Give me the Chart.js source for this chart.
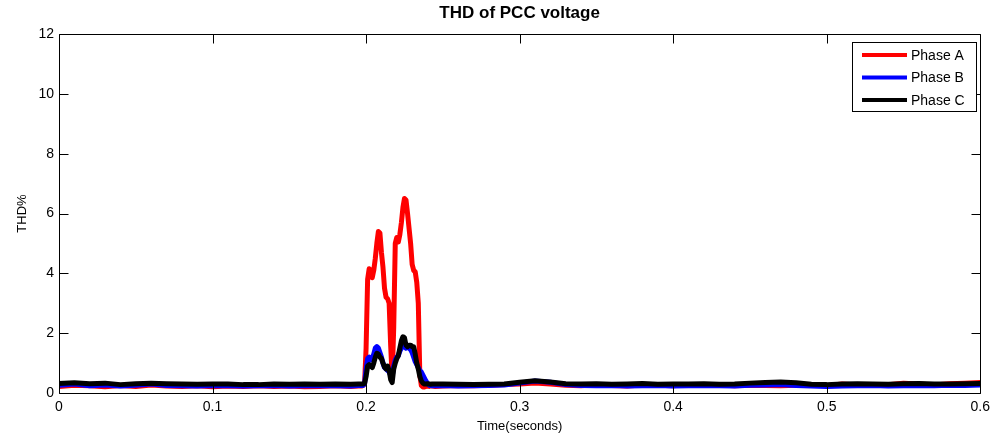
<!DOCTYPE html>
<html><head><meta charset="utf-8">
<script src="https://cdn.jsdelivr.net/npm/chart.js@4"></script>
<style>html,body{margin:0;padding:0;background:#fff}canvas{display:block}</style>
</head><body>
<canvas id="c" width="996" height="437"></canvas>
<script>
const times = [0,0.01,0.02,0.03,0.04,0.05,0.06,0.07,0.08,0.09,0.1,0.11,0.12,0.13,0.14,0.15,0.16,0.17,0.18,0.19,0.195,
0.197,0.198,0.199,0.200,0.201,0.202,0.203,0.204,0.205,0.206,0.207,0.208,0.209,0.210,0.211,0.212,0.213,0.214,0.215,0.216,0.217,0.218,0.219,0.220,0.221,0.222,0.223,0.224,0.225,0.226,0.227,0.228,0.229,0.230,0.231,0.232,0.233,0.234,0.235,0.236,0.237,0.238,0.239,0.240,0.241,0.242,0.243,
0.245,0.25,0.26,0.27,0.28,0.29,0.3,0.31,0.32,0.33,0.34,0.35,0.36,0.37,0.38,0.39,0.4,0.41,0.42,0.43,0.44,0.45,0.46,0.47,0.48,0.49,0.5,0.51,0.52,0.53,0.54,0.55,0.56,0.57,0.58,0.59,0.6];

const phaseA = [0.22,0.26,0.24,0.21,0.25,0.22,0.27,0.23,0.22,0.24,0.21,0.23,0.22,0.24,0.22,0.23,0.21,0.22,0.24,0.22,0.23,
0.23,0.25,0.30,1.50,3.80,4.15,4.10,3.85,4.10,4.50,5.00,5.40,5.35,4.70,4.20,3.50,3.20,3.15,3.00,1.60,0.50,2.20,5.00,5.20,5.05,5.30,5.70,6.20,6.50,6.45,6.00,5.50,5.00,4.30,4.10,4.05,3.70,3.00,0.60,0.25,0.20,0.20,0.22,0.23,0.22,0.24,0.23,
0.22,0.23,0.25,0.24,0.26,0.28,0.30,0.33,0.30,0.26,0.24,0.28,0.25,0.23,0.27,0.26,0.24,0.28,0.25,0.27,0.24,0.26,0.25,0.24,0.26,0.28,0.24,0.30,0.27,0.25,0.28,0.33,0.30,0.27,0.31,0.33,0.35];

const phaseB = [0.26,0.30,0.24,0.27,0.23,0.26,0.30,0.25,0.24,0.23,0.25,0.24,0.23,0.24,0.25,0.23,0.24,0.25,0.24,0.23,0.25,
0.25,0.25,0.30,0.80,1.15,1.20,1.10,1.15,1.30,1.50,1.55,1.50,1.35,1.20,1.00,0.85,0.80,0.75,0.70,0.60,0.55,0.90,1.10,1.20,1.25,1.40,1.50,1.60,1.55,1.50,1.60,1.50,1.45,1.35,1.20,1.05,0.95,0.85,0.75,0.70,0.60,0.50,0.40,0.32,0.26,0.25,0.24,
0.24,0.25,0.23,0.24,0.25,0.27,0.33,0.40,0.36,0.28,0.25,0.24,0.25,0.23,0.24,0.25,0.23,0.24,0.25,0.24,0.23,0.26,0.27,0.28,0.25,0.23,0.22,0.23,0.24,0.25,0.23,0.24,0.25,0.24,0.26,0.25,0.27];

const phaseC = [0.32,0.34,0.31,0.33,0.28,0.31,0.33,0.31,0.30,0.29,0.30,0.30,0.28,0.28,0.30,0.29,0.30,0.29,0.30,0.29,0.30,
0.30,0.30,0.32,0.55,0.90,0.95,0.90,0.85,1.00,1.20,1.33,1.30,1.20,1.15,1.00,0.87,0.80,0.90,0.75,0.45,0.35,0.80,1.00,1.15,1.25,1.50,1.75,1.88,1.85,1.60,1.55,1.60,1.60,1.55,1.55,1.30,1.00,0.80,0.55,0.40,0.33,0.30,0.30,0.31,0.30,0.29,0.30,
0.30,0.30,0.29,0.28,0.29,0.30,0.36,0.41,0.37,0.31,0.30,0.31,0.29,0.30,0.32,0.29,0.30,0.30,0.31,0.29,0.30,0.33,0.35,0.37,0.34,0.29,0.28,0.30,0.31,0.30,0.29,0.31,0.32,0.30,0.30,0.31,0.32];

const xTicks = [0,0.1,0.2,0.3,0.4,0.5,0.6];
const yTicks = [0,2,4,6,8,10,12];
const seriesNames = ['Phase A','Phase B','Phase C'];
const seriesColors = ['#ff0000','#0000ff','#000000'];
const chartTitle = 'THD of PCC voltage';
const xTitle = 'Time(seconds)';
const yTitle = 'THD%';

const FONT = '"Liberation Sans", Arial, sans-serif';
const seriesValues = [phaseA, phaseB, phaseC];

const datasets = seriesValues.map((vals, k) => ({
  label: seriesNames[k],
  data: times.map((t, i) => ({x: t, y: vals[i]})),
  borderColor: seriesColors[k],
  backgroundColor: seriesColors[k],
  borderWidth: 5,
  pointRadius: 0,
  tension: 0,
  borderJoinStyle: 'round',
  borderCapStyle: 'round',
  order: 3 - k
}));

const deco = {
  id: 'deco',
  afterDatasetsDraw(chart) {
    const {ctx, chartArea: a, scales: {x, y}} = chart;
    ctx.save();
    ctx.strokeStyle = '#000';
    ctx.lineWidth = 1;
    const L = Math.round(a.left) + 0.5, R = Math.round(a.right) + 0.5;
    const T = Math.round(a.top) + 0.5, B = Math.round(a.bottom) + 0.5;
    ctx.beginPath();
    ctx.rect(L, T, R - L, B - T);
    xTicks.forEach(v => {
      const p = Math.round(x.getPixelForValue(v)) + 0.5;
      ctx.moveTo(p, B); ctx.lineTo(p, B - 9);
      ctx.moveTo(p, T); ctx.lineTo(p, T + 9);
    });
    yTicks.forEach(v => {
      const p = Math.round(y.getPixelForValue(v)) + 0.5;
      ctx.moveTo(L, p); ctx.lineTo(L + 9, p);
      ctx.moveTo(R, p); ctx.lineTo(R - 9, p);
    });
    ctx.stroke();

    // legend box
    const lx = 852.5, ly = 42.5, lw = 124, lh = 69;
    ctx.fillStyle = '#fff';
    ctx.fillRect(lx, ly, lw, lh);
    ctx.strokeRect(lx, ly, lw, lh);
    ctx.font = '14px ' + FONT;
    ctx.textBaseline = 'middle';
    ctx.textAlign = 'left';
    seriesNames.forEach((n, k) => {
      const yy = 55 + k * 22.5;
      ctx.strokeStyle = seriesColors[k];
      ctx.lineWidth = 4;
      ctx.beginPath();
      ctx.moveTo(862, yy); ctx.lineTo(907, yy);
      ctx.stroke();
      ctx.fillStyle = '#000';
      ctx.fillText(n, 911, yy + 1);
    });

    // titles
    ctx.fillStyle = '#000';
    ctx.textAlign = 'center';
    ctx.font = 'bold 17px ' + FONT;
    ctx.fillText(chartTitle, (a.left + a.right) / 2, 13);
    ctx.font = '13px ' + FONT;
    ctx.fillText(xTitle, (a.left + a.right) / 2, 426);
    ctx.save();
    ctx.translate(22, (a.top + a.bottom) / 2);
    ctx.rotate(-Math.PI / 2);
    ctx.font = '13px ' + FONT;
    ctx.fillText(yTitle, 0, 0);
    ctx.restore();
    ctx.restore();
  }
};

new Chart(document.getElementById('c'), {
  type: 'line',
  data: {datasets},
  options: {
    responsive: false,
    animation: false,
    devicePixelRatio: 1,
    layout: {padding: {left: 0, right: 15, top: 34, bottom: 0}},
    plugins: {legend: {display: false}, tooltip: {enabled: false}, title: {display: false}},
    scales: {
      x: {
        type: 'linear', min: 0, max: 0.6,
        grid: {display: false, drawTicks: false},
        border: {display: false},
        afterBuildTicks: s => { s.ticks = xTicks.map(v => ({value: v})); },
        afterFit: s => { s.height = 44; },
        ticks: {padding: 6, color: '#000', font: {family: FONT, size: 14}, maxRotation: 0, autoSkip: false,
          callback: v => String(v)}
      },
      y: {
        type: 'linear', min: 0, max: 12,
        grid: {display: false, drawTicks: false},
        border: {display: false},
        afterBuildTicks: s => { s.ticks = yTicks.map(v => ({value: v})); },
        afterFit: s => { s.width = 59; },
        ticks: {padding: 5, color: '#000', font: {family: FONT, size: 14},
          callback: v => String(v)}
      }
    }
  },
  plugins: [deco]
});
</script>
</body></html>
